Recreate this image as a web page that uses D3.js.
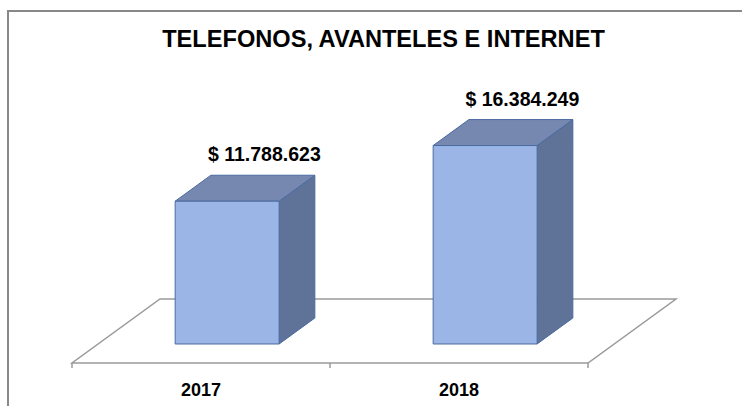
<!DOCTYPE html>
<html>
<head>
<meta charset="utf-8">
<script src="https://cdn.jsdelivr.net/npm/d3@7/dist/d3.min.js"></script>
<style>
html,body{margin:0;padding:0;background:#fff;}
svg{display:block;font-family:"Liberation Sans",Arial,sans-serif;}
</style>
</head>
<body>
<svg id="chart" width="742" height="406"></svg>
<script>
const title = "TELEFONOS, AVANTELES E INTERNET";
const categories = ["2017", "2018"];
const values = [11788623, 16384249];
const valueLabels = ["$ 11.788.623", "$ 16.384.249"];
const axisMax = 18000000;

const svg = d3.select("#chart");
const W = 742, H = 406;

// frame
svg.append("rect").attr("x", 8).attr("y", 11).attr("width", 760).attr("height", 420)
  .attr("fill", "#fff").attr("stroke", "#888").attr("stroke-width", 2);

svg.append("text").attr("x", 383.5).attr("y", 47).attr("text-anchor", "middle")
  .attr("font-size", 23.6).attr("font-weight", "bold").attr("fill", "#000").text(title);

// floor geometry
const floorFrontY = 363;
const depth = {dx: 88, dy: -64};
const x = d3.scaleBand().domain(categories).range([72, 588]).paddingInner(0).paddingOuter(0);
const barFrac = 0.403;
const frontOff = 0.297, depthFrac = 0.406;
const baseY = floorFrontY + depth.dy * frontOff;
const y = d3.scaleLinear().domain([0, axisMax]).range([0, 218]);

const [x0, x1] = x.range();
const floorPts = [[x0, floorFrontY], [x1, floorFrontY], [x1 + depth.dx, floorFrontY + depth.dy], [x0 + depth.dx, floorFrontY + depth.dy]];
svg.append("polygon").attr("points", floorPts.map(p => p.join(",")).join(" "))
  .attr("fill", "#fff").attr("stroke", "#9a9a9a").attr("stroke-width", 1.5);

// ticks at band boundaries
const tickXs = categories.map(c => x(c)).concat([x1]);
svg.selectAll("line.tick").data(tickXs).enter().append("line")
  .attr("x1", d => d).attr("x2", d => d).attr("y1", floorFrontY).attr("y2", floorFrontY + 5)
  .attr("stroke", "#9a9a9a").attr("stroke-width", 1.5);

svg.selectAll("text.cat").data(categories).enter().append("text")
  .attr("x", d => x(d) + x.bandwidth() / 2).attr("y", 396).attr("text-anchor", "middle")
  .attr("font-size", 18).attr("font-weight", "bold").attr("fill", "#000").text(d => d);

// bars
const bdx = depth.dx * depthFrac, bdy = depth.dy * depthFrac;
const bw = x.bandwidth() * barFrac;
categories.forEach((c, i) => {
  const fx = x(c) + (x.bandwidth() - bw) / 2 + depth.dx * frontOff;
  const h = y(values[i]);
  const top = baseY - h;
  const g = svg.append("g").attr("stroke", "#4a6aa0").attr("stroke-width", 1).attr("stroke-linejoin", "round");
  // side
  g.append("polygon").attr("points", [[fx + bw, baseY], [fx + bw, top], [fx + bw + bdx, top + bdy], [fx + bw + bdx, baseY + bdy]].map(p => p.join(",")).join(" "))
    .attr("fill", "#5f7298");
  // top
  g.append("polygon").attr("points", [[fx, top], [fx + bw, top], [fx + bw + bdx, top + bdy], [fx + bdx, top + bdy]].map(p => p.join(",")).join(" "))
    .attr("fill", "#7688b0");
  // front
  g.append("rect").attr("x", fx).attr("y", top).attr("width", bw).attr("height", h).attr("fill", "#9bb6e6");
  svg.append("text").attr("x", fx + bdx + bw / 2 + 1.5).attr("y", top + bdy - 14)
    .attr("text-anchor", "middle").attr("font-size", 19.5).attr("font-weight", "bold").attr("fill", "#000")
    .text(valueLabels[i]);
});
</script>
</body>
</html>
